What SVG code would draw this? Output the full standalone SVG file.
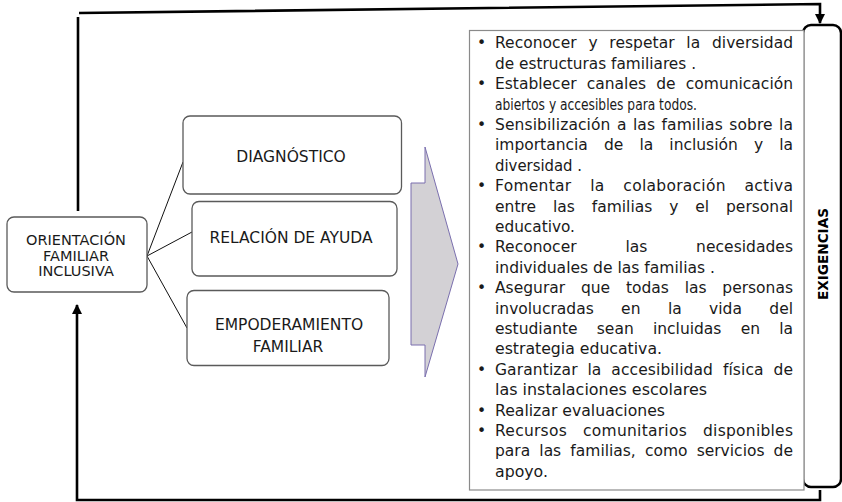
<svg xmlns="http://www.w3.org/2000/svg" width="842" height="502" viewBox="0 0 842 502">
<defs>
<style>
.box{fill:#fff;stroke:#5a5a5a;stroke-width:1.3}
.lbl{font-family:"DejaVu Sans",Verdana,sans-serif;font-size:15.5px;fill:#1a1a1a;text-anchor:middle}
.sm{font-size:14.5px}
.t{font-family:"DejaVu Sans",Verdana,sans-serif;font-size:15.5px;fill:#1a1a1a}
.thick{fill:none;stroke:#000;stroke-width:2.6}
.thin{fill:none;stroke:#111;stroke-width:1}
</style>
<marker id="ah" viewBox="0 0 10 10" refX="9" refY="5" markerWidth="4" markerHeight="4" markerUnits="strokeWidth" orient="auto">
<path d="M0,0 L10,5 L0,10 z" fill="#000"/>
</marker>
</defs>

<g id="connectors">
<path class="thick" d="M79,13 L820,4 L820,23" marker-end="url(#ah)"/>
<path class="thick" d="M78,17 L78,211"/>
<path class="thick" d="M820,490 L820,500 L77,500 L77,305" marker-end="url(#ah)"/>
<path class="thin" d="M147,256 L183,162"/>
<path class="thin" d="M147,256 L192,232"/>
<path class="thin" d="M147,256 L187,328"/>
</g>

<g id="orientacion">
<rect class="box" x="7" y="217" width="140" height="75" rx="7"/>
<text class="lbl sm" x="76" y="245">ORIENTACIÓN</text>
<text class="lbl sm" x="76" y="260.5">FAMILIAR</text>
<text class="lbl sm" x="76" y="276">INCLUSIVA</text>
</g>

<g id="diagnostico">
<rect class="box" x="183" y="116" width="218.5" height="78" rx="7"/>
<text class="lbl" x="291" y="162">DIAGNÓSTICO</text>
</g>

<g id="relacion">
<rect class="box" x="192" y="201.5" width="205" height="74.5" rx="7"/>
<text class="lbl" x="291" y="243">RELACIÓN DE AYUDA</text>
</g>

<g id="empoderamiento">
<rect class="box" x="187" y="290.5" width="202" height="75" rx="7"/>
<text class="lbl" x="289" y="330">EMPODERAMIENTO</text>
<text class="lbl" x="288" y="352">FAMILIAR</text>
</g>

<g id="flecha">
<path d="M411,183 L425,183 L425,147 L458,264 L425,377 L425,345 L411,345 Z" fill="#d3d1d5" stroke="#7a6fae" stroke-width="1"/>
</g>

<g id="exigencias">
<rect x="803" y="25" width="38" height="462" rx="8" fill="#fff" stroke="#000" stroke-width="2.5"/>
<text x="828" y="254" transform="rotate(-90 828 254)" text-anchor="middle" font-family="'DejaVu Sans',Verdana,sans-serif" font-weight="bold" font-size="14" textLength="92" lengthAdjust="spacingAndGlyphs" fill="#000">EXIGENCIAS</text>
</g>

<g id="lista">
<rect x="469.5" y="30.5" width="334.5" height="459.5" fill="#fff" stroke="#8a8a8a" stroke-width="1.2"/>
<g class="t">
<text x="477" y="48.3">•</text>
<text x="477" y="89.1">•</text>
<text x="477" y="129.9">•</text>
<text x="477" y="191.1">•</text>
<text x="477" y="252.3">•</text>
<text x="477" y="293.1">•</text>
<text x="477" y="374.7">•</text>
<text x="477" y="415.5">•</text>
<text x="477" y="435.9">•</text>
</g>
<text class="t" x="495" y="48.3" word-spacing="6.8" textLength="298" lengthAdjust="spacing">Reconocer y respetar la diversidad</text>
<text class="t" x="495" y="68.7" textLength="201" lengthAdjust="spacingAndGlyphs">de estructuras familiares .</text>
<text class="t" x="495" y="89.1" word-spacing="5.27" textLength="298" lengthAdjust="spacing">Establecer canales de comunicación</text>
<text class="t" x="495" y="109.5" textLength="202" lengthAdjust="spacingAndGlyphs">abiertos y accesibles para todos.</text>
<text class="t" x="495" y="129.9" word-spacing="1.41" textLength="298" lengthAdjust="spacing">Sensibilización a las familias sobre la</text>
<text class="t" x="495" y="150.3" word-spacing="11.17" textLength="298" lengthAdjust="spacing">importancia de la inclusión y la</text>
<text class="t" x="495" y="170.7" textLength="87" lengthAdjust="spacingAndGlyphs">diversidad .</text>
<text class="t" x="495" y="191.1" word-spacing="13.6" textLength="298" lengthAdjust="spacing">Fomentar la colaboración activa</text>
<text class="t" x="495" y="211.5" word-spacing="11.93" textLength="298" lengthAdjust="spacing">entre las familias y el personal</text>
<text class="t" x="495" y="231.9" textLength="80" lengthAdjust="spacingAndGlyphs">educativo.</text>
<text class="t" x="495" y="252.3" word-spacing="43.8" textLength="298" lengthAdjust="spacing">Reconocer las necesidades</text>
<text class="t" x="495" y="272.7" textLength="220" lengthAdjust="spacingAndGlyphs">individuales  de las familias .</text>
<text class="t" x="495" y="293.1" word-spacing="10.85" textLength="298" lengthAdjust="spacing">Asegurar que todas las personas</text>
<text class="t" x="495" y="313.5" word-spacing="22.47" textLength="298" lengthAdjust="spacing">involucradas en la vida del</text>
<text class="t" x="495" y="333.9" word-spacing="14.27" textLength="298" lengthAdjust="spacing">estudiante sean incluidas en la</text>
<text class="t" x="495" y="354.3" textLength="167" lengthAdjust="spacingAndGlyphs">estrategia educativa.</text>
<text class="t" x="495" y="374.7" word-spacing="4.82" textLength="298" lengthAdjust="spacing">Garantizar la accesibilidad física de</text>
<text class="t" x="495" y="395.1" textLength="212" lengthAdjust="spacingAndGlyphs">las instalaciones escolares</text>
<text class="t" x="495" y="415.5" textLength="170" lengthAdjust="spacingAndGlyphs">Realizar evaluaciones</text>
<text class="t" x="495" y="435.9" word-spacing="10.82" textLength="298" lengthAdjust="spacing">Recursos comunitarios disponibles</text>
<text class="t" x="495" y="456.3" word-spacing="4.19" textLength="298" lengthAdjust="spacing">para las familias, como servicios de</text>
<text class="t" x="495" y="476.7" textLength="53" lengthAdjust="spacingAndGlyphs">apoyo.</text>
</g>
</svg>
